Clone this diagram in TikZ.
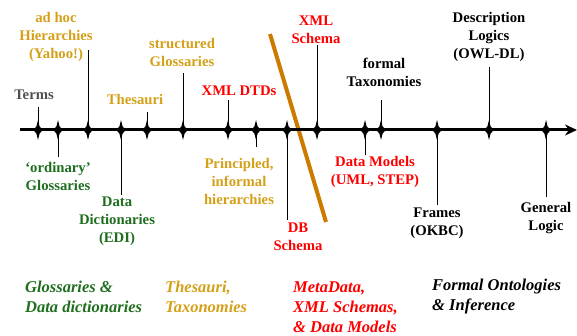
\documentclass[tikz,border=0pt]{standalone}
\usepackage{fontspec}
\setmainfont{Liberation Serif}
\usetikzlibrary{arrows.meta}
\definecolor{gold}{RGB}{212,160,23}
\definecolor{dgreen}{RGB}{30,110,30}
\definecolor{termgray}{RGB}{80,80,80}
\definecolor{rred}{RGB}{255,0,0}
\definecolor{barcol}{RGB}{204,122,0}
\begin{document}
\begin{tikzpicture}[x=1pt,y=-1pt,
  lbl/.style={font=\bfseries\fontsize{14.7}{18}\selectfont, align=center, inner sep=0pt},
  cat/.style={font=\bfseries\itshape\fontsize{16.5}{20}\selectfont, align=left, anchor=west, inner sep=0pt},
  tickline/.style={line width=1pt},
  marker/.style={fill=black}
]
\useasboundingbox (0,0) rectangle (577,336);

% orange divider
\coordinate (b1) at (270,34);
\coordinate (b2) at (326,222);
\draw[barcol, line width=4pt] (b1) -- (b2);

% ticks
\foreach \x/\ye/\n in {38/107/t1, 58/157/t2, 88/50/t3, 121/195/t4, 147/112/t5,
  183/73/t6, 228/100/t7, 256/147/t8, 287/220/t9, 317/45/t10, 365/155/t11,
  381/100/t12, 437/205/t13, 489/67/t14, 546/197/t15} {
  \coordinate (\n a) at (\x,130);
  \coordinate (\n b) at (\x,\ye);
  \draw[tickline] (\n a) -- (\n b);
}

% axis
\coordinate (axs) at (20,130);
\coordinate (axe) at (577,130);
\draw[line width=3pt,-{Stealth[length=12pt,width=11pt]}] (axs) -- (axe);

% markers
\foreach \n in {t1,t2,t3,t4,t5,t6,t7,t8,t9,t10,t11,t12,t13,t14,t15} {
  \fill[marker] (\n a) ++(0,-10) -- ++(1.6,6.5) -- ++(3.2,3.5) -- ++(-3.2,3.5) -- ++(-1.6,6.5)
     -- ++(-1.6,-6.5) -- ++(-3.2,-3.5) -- ++(3.2,-3.5) -- cycle;
}

% labels
\node[lbl, text=termgray] (l1) at (34,95) {Terms};
\node[lbl, text=dgreen] (l2) at (58,176) {‘ordinary’\\Glossaries};
\node[lbl, text=gold] (l3) at (56,37) {ad hoc\\Hierarchies\\(Yahoo!)};
\node[lbl, text=dgreen] (l4) at (117,221) {Data\\Dictionaries\\(EDI)};
\node[lbl, text=gold] (l5) at (135,99) {Thesauri};
\node[lbl, text=gold] (l6) at (182,52) {structured\\Glossaries};
\node[lbl, text=rred] (l7) at (239,91) {XML DTDs};
\node[lbl, text=gold] (l8) at (239,181) {Principled,\\informal\\hierarchies};
\node[lbl, text=rred] (l9) at (298,237) {DB\\Schema};
\node[lbl, text=rred] (l10) at (316,30) {XML\\Schema};
\node[lbl, text=rred] (l11) at (375,172) {Data Models\\(UML, STEP)};
\node[lbl, text=black] (l12) at (384,72) {formal\\Taxonomies};
\node[lbl, text=black] (l13) at (437,223) {Frames\\(OKBC)};
\node[lbl, text=black] (l14) at (489,37) {Description\\Logics\\(OWL-DL)};
\node[lbl, text=black] (l15) at (546,218) {General\\Logic};

% categories
\node[cat, text=dgreen] (c1) at (25,297) {Glossaries \&\\Data dictionaries};
\node[cat, text=gold] (c2) at (165,297) {Thesauri,\\Taxonomies};
\node[cat, text=rred] (c3) at (293,307) {MetaData,\\XML Schemas,\\\& Data Models};
\node[cat, text=black] (c4) at (432,297) {Formal Ontologies\\\& Inference};
\end{tikzpicture}
\end{document}
